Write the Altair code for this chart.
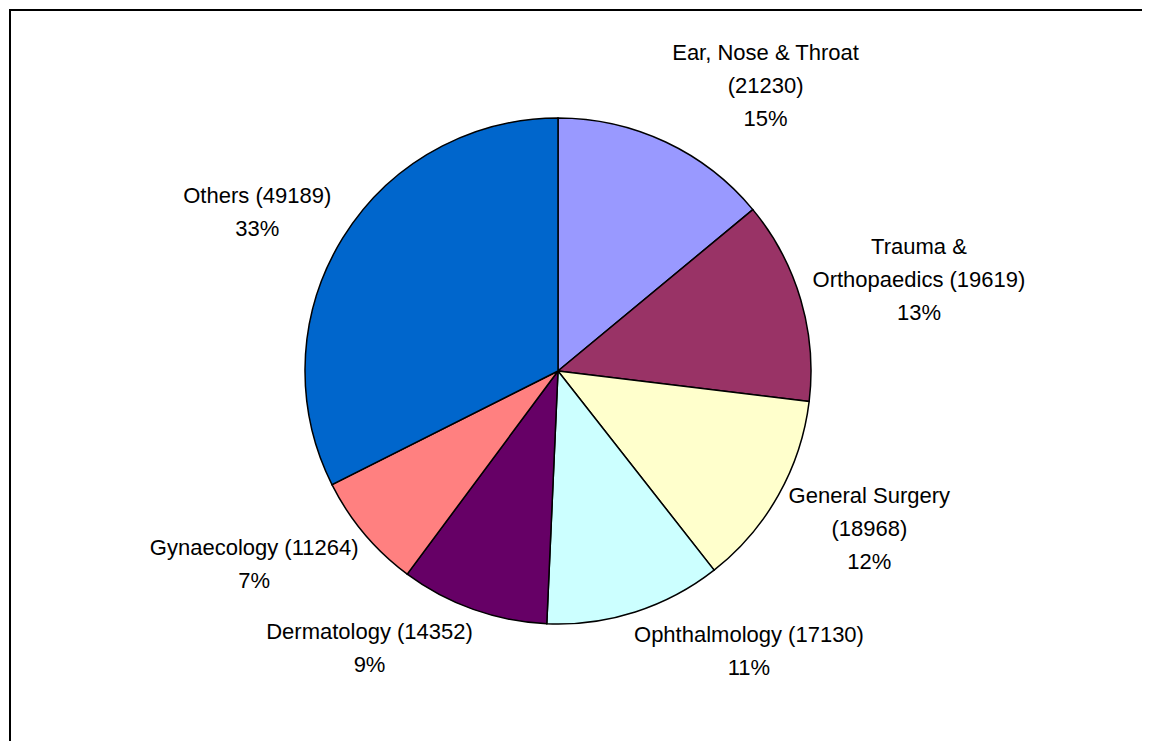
import altair as alt
import pandas as pd

# ---- data ----
categories = ["Ear, Nose & Throat", "Trauma & Orthopaedics", "General Surgery",
              "Ophthalmology", "Dermatology", "Gynaecology", "Others"]
values = [21230, 19619, 18968, 17130, 14352, 11264, 49189]
pct_labels = ["15%", "13%", "12%", "11%", "9%", "7%", "33%"]
label_lines = [
    ["Ear, Nose & Throat", "(21230)"],
    ["Trauma &", "Orthopaedics (19619)"],
    ["General Surgery", "(18968)"],
    ["Ophthalmology (17130)"],
    ["Dermatology (14352)"],
    ["Gynaecology (11264)"],
    ["Others (49189)"],
]
colors = ["#9999FF", "#993366", "#FFFFCC", "#CCFFFF", "#660066", "#FF8080", "#0066CC"]

# ---- layout constants ----
W, H = 1134, 733
CX, CY = 549, 362
R = 253
R0 = 260
SX = 1.03
FONT = "Liberation Sans, Arial, sans-serif"
FS = 22
LH = 33
CW = 10.4

rows = []
for i, (c, v, p, ll) in enumerate(zip(categories, values, pct_labels, label_lines)):
    lines = ll + [p]
    rows.append({
        "idx": i, "cat": c, "value": v,
        "label": "\n".join(lines),
        "maxchars": max(len(s) for s in lines),
        "nlines": len(lines),
    })
df = pd.DataFrame(rows)

base = alt.Chart(df)

pie = base.mark_arc(radius=R, stroke="black", strokeWidth=1.5).encode(
    theta=alt.Theta("value:Q", stack=True),
    order=alt.Order("idx:Q"),
    color=alt.Color("cat:N", scale=alt.Scale(domain=categories, range=colors), legend=None),
    x=alt.value(CX),
    y=alt.value(CY),
)

labels = base.transform_joinaggregate(
    total="sum(value)"
).transform_window(
    cum="sum(value)", sort=[alt.SortField("idx")], frame=[None, 0]
).transform_calculate(
    a="2*PI*(datum.cum - datum.value/2)/datum.total"
).transform_calculate(
    px=f"{CX} + {SX}*{R0}*sin(datum.a)",
    py=f"{CY} - {R0}*cos(datum.a)",
    w=f"datum.maxchars*{CW}",
    h=f"datum.nlines*{LH}",
).transform_calculate(
    lx="datum.px + (sin(datum.a) >= 0 ? 1 : -1)*datum.w/2",
    ly=f"datum.py - clamp(1.25*cos(datum.a), -1, 1)*datum.h/2 - (datum.nlines-1)*{LH}/2",
).mark_text(
    align="center", baseline="middle", lineBreak="\n", lineHeight=LH,
    font=FONT, fontSize=FS, color="black",
).encode(
    x=alt.X("lx:Q", scale=None, axis=None),
    y=alt.Y("ly:Q", scale=None, axis=None),
    text="label:N",
)

frame_top = base.mark_rule(color="black", strokeWidth=2).encode(
    x=alt.value(0), x2=alt.value(W), y=alt.value(1)
)
frame_left = base.mark_rule(color="black", strokeWidth=2).encode(
    x=alt.value(1), y=alt.value(0), y2=alt.value(H)
)

chart = alt.layer(pie, labels, frame_top, frame_left).properties(
    width=W, height=H,
    autosize=alt.AutoSizeParams(type="fit", contains="padding"),
    padding=0,
    background="white",
).configure_view(stroke=None)

chart.save("out.html", embed_options={"renderer": "svg", "actions": False})
